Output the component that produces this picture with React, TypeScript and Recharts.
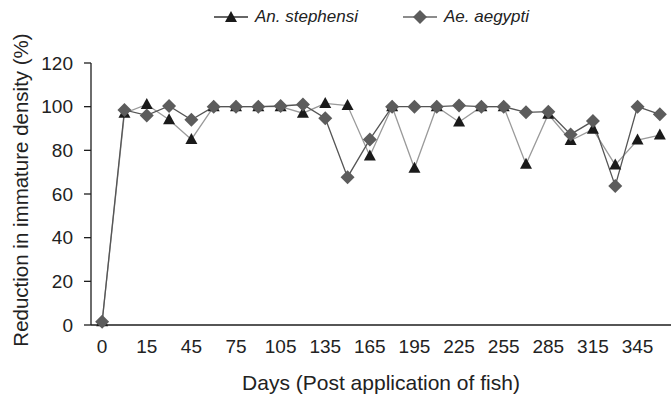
import React from 'react';
import { LineChart, Line, XAxis, YAxis, Legend } from 'recharts';

const days = ['0', '7', '15', '30', '45', '60', '75', '90', '105', '120', '135', '150', '165', '180', '195', '210', '225', '240', '255', '270', '285', '300', '315', '330', '345', '360'];
const stephensi = [1.5, 97, 101, 94, 85, 100, 100, 100, 100, 97, 101.5, 100.5, 77.4, 100, 71.8, 100, 93, 100, 100, 73.6, 96.5, 84.5, 89.6, 73.3, 84.7, 87];
const aegypti = [1.5, 98.5, 96, 100.3, 94, 100, 100, 100, 100.3, 101, 94.7, 67.7, 85, 100, 100, 100, 100.5, 100, 100, 97.4, 97.7, 87.3, 93.4, 63.7, 100, 96.5];
const yTicks = [0, 20, 40, 60, 80, 100, 120];
const labelIdx = [0, 2, 4, 6, 8, 10, 12, 14, 16, 18, 20, 22, 24];

const data = days.map((d, i) => ({ i, day: d, an: stephensi[i], ae: aegypti[i] }));
const boundaries = days.map((_, i) => i - 0.5).concat([days.length - 0.5]);

const FONT = '"Liberation Sans", Arial, sans-serif';
const AXIS = '#1e1e1e';

const Triangle = (props: any) => {
  const { cx, cy } = props;
  if (cx == null || cy == null) return null;
  return <polygon points={`${cx},${cy - 6.5} ${cx - 6},${cy + 4.5} ${cx + 6},${cy + 4.5}`} fill="#1a1a1a" />;
};
const Diamond = (props: any) => {
  const { cx, cy } = props;
  if (cx == null || cy == null) return null;
  return <polygon points={`${cx},${cy - 7} ${cx + 7},${cy} ${cx},${cy + 7} ${cx - 7},${cy}`} fill="#5c5c5c" />;
};

const LegendContent = () => (
  <div style={{ display: 'flex', alignItems: 'center', paddingLeft: 213, height: 34, fontFamily: FONT, fontSize: 17, fontStyle: 'italic', color: '#222' }}>
    <svg width={36} height={16} style={{ marginRight: 6 }}>
      <line x1={1} y1={8} x2={35} y2={8} stroke="#333" strokeWidth={1.3} />
      <polygon points="18,2 12,13 24,13" fill="#1a1a1a" />
    </svg>
    <span style={{ marginRight: 44 }}>An. stephensi</span>
    <svg width={36} height={16} style={{ marginRight: 6 }}>
      <line x1={1} y1={8} x2={35} y2={8} stroke="#666" strokeWidth={1.3} />
      <polygon points="18,1 25,8 18,15 11,8" fill="#5c5c5c" />
    </svg>
    <span>Ae. aegypti</span>
  </div>
);

export default function App() {
  return (
    <div style={{ position: 'absolute', left: 0, top: 0, width: 672, height: 394, overflow: 'hidden', background: '#fff' }}>
      <LineChart width={672} height={394} data={data} margin={{ top: 0, right: 1, left: 0, bottom: 0 }}>
        <Legend verticalAlign="top" align="left" height={63} content={<LegendContent />} />
        <XAxis
          dataKey="i"
          type="number"
          domain={[-0.5, days.length - 0.5]}
          ticks={boundaries}
          interval={0}
          tick={false}
          tickSize={6}
          height={8}
          stroke={AXIS}
          strokeWidth={1.3}
          allowDataOverflow
        />
        <XAxis
          xAxisId="lab"
          dataKey="i"
          type="number"
          domain={[-0.5, days.length - 0.5]}
          ticks={labelIdx}
          interval={0}
          tickFormatter={(v: number) => days[v]}
          axisLine={false}
          tickLine={false}
          tickSize={5}
          tickMargin={2}
          height={61}
          tick={{ fill: '#222', fontSize: 19, fontFamily: FONT }}
          allowDataOverflow
          label={{ value: 'Days (Post application of fish)', position: 'insideBottom', offset: 4, fill: '#222', fontSize: 21, fontFamily: FONT }}
        />
        <YAxis
          type="number"
          domain={[0, 120]}
          ticks={yTicks}
          interval={0}
          width={91}
          tickSize={7}
          tickMargin={11}
          stroke={AXIS}
          strokeWidth={1.3}
          tick={{ fill: '#222', fontSize: 19, fontFamily: FONT }}
          label={{ value: 'Reduction in immature density (%)', angle: -90, position: 'insideLeft', offset: 21, dy: -4, fill: '#222', fontSize: 20.5, fontFamily: FONT, style: { textAnchor: 'middle' } }}
        />
        <Line dataKey="an" name="An. stephensi" stroke="#9a9a9a" strokeWidth={1.3} dot={<Triangle />} activeDot={false} isAnimationActive={false} />
        <Line dataKey="ae" name="Ae. aegypti" stroke="#555" strokeWidth={1.3} dot={<Diamond />} activeDot={false} isAnimationActive={false} />
      </LineChart>
    </div>
  );
}
